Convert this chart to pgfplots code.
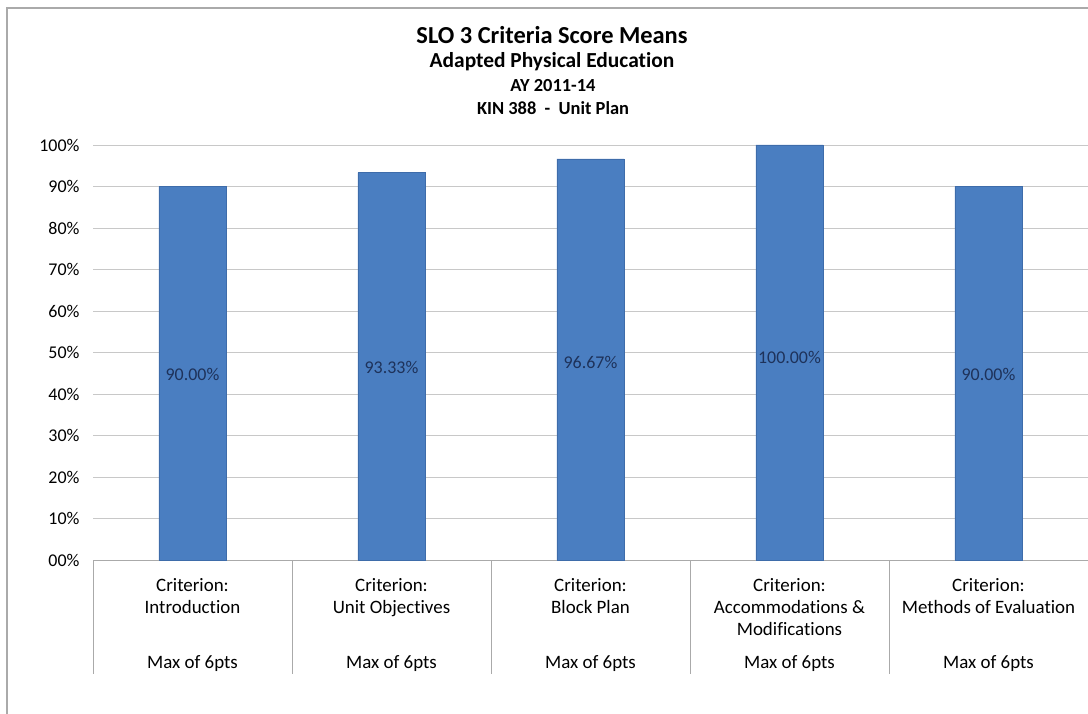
\documentclass[border=0pt]{standalone}
\usepackage{fontspec}
\setmainfont{Carlito}[Ligatures=NoCommon]
\usepackage{pgfplots}
\usepackage{pgfplotstable}
\pgfplotsset{compat=1.18}

\definecolor{barblue}{RGB}{74,126,193}
\definecolor{baredge}{RGB}{62,108,170}
\definecolor{lblblue}{RGB}{30,50,90}
\definecolor{gridgray}{RGB}{200,200,200}
\definecolor{axgray}{RGB}{170,170,170}

\pgfplotstableread{
x v ly
0 90.00 44.6
1 93.33 46.3
2 96.67 47.7
3 100.00 48.9
4 90.00 44.6
}\scoredata

\begin{document}
\begin{tikzpicture}
\useasboundingbox (0,0) rectangle (1088bp,714bp);
\fill[white] (0,0) rectangle (1088bp,714bp);
\draw[axgray, line width=1.5bp] (7bp,-20bp) rectangle (1110bp,706bp);

\node[font=\fontsize{24.5}{27}\selectfont\bfseries] at (552bp,679bp) {SLO 3 Criteria Score Means};
\node[font=\fontsize{21.5}{23}\selectfont\bfseries] at (552bp,652bp) {Adapted Physical Education};
\node[font=\fontsize{18.5}{20}\selectfont\bfseries] at (553bp,628bp) {AY 2011-14};
\node[font=\fontsize{18.5}{20}\selectfont\bfseries] at (553bp,606bp) {KIN 388\ \ -\ \ Unit Plan};

\begin{axis}[
  at={(93bp,154bp)}, anchor=south west,
  scale only axis, width=995bp, height=415bp,
  xmin=-0.5, xmax=4.5, ymin=0, ymax=100,
  axis x line*=bottom, axis y line*=left,
  x axis line style={axgray, line width=1bp},
  y axis line style={draw=none},
  ymajorgrids, grid style={gridgray, line width=0.8bp},
  ytick={0,10,...,100},
  yticklabels={00\%,10\%,20\%,30\%,40\%,50\%,60\%,70\%,80\%,90\%,100\%},
  ytick style={draw=none},
  yticklabel style={font=\fontsize{18}{20}\selectfont, xshift=-10bp},
  xtick={0,1,2,3,4},
  xticklabels={
    {Criterion:\\Introduction\\\strut\\[11bp]Max of 6pts},
    {Criterion:\\Unit Objectives\\\strut\\[11bp]Max of 6pts},
    {Criterion:\\Block Plan\\\strut\\[11bp]Max of 6pts},
    {Criterion:\\Accommodations \&\\Modifications\\[11bp]Max of 6pts},
    {Criterion:\\Methods of Evaluation\\\strut\\[11bp]Max of 6pts}},
  xtick style={draw=none},
  xticklabel style={font=\fontsize{19}{22}\selectfont, align=center, anchor=north, yshift=-15bp},
  extra x ticks={-0.5,0.5,1.5,2.5,3.5,4.5},
  extra x tick labels={},
  extra x tick style={xtick style={draw=axgray, line width=1bp}, major tick length=114bp, tick align=outside, grid=none},
  /pgf/number format/assume math mode=true,
  clip=false,
]
\addplot[ybar, bar width=0.337, fill=barblue, draw=baredge] table[x=x, y=v] {\scoredata};
\addplot[draw=none, mark=none, nodes near coords, point meta=explicit,
  nodes near coords={\pgfmathprintnumber[fixed, fixed zerofill, precision=2]{\pgfplotspointmeta}\%},
  every node near coord/.append style={anchor=center, text=lblblue, font=\fontsize{18}{20}\selectfont}]
  table[x=x, y=ly, meta=v] {\scoredata};
\end{axis}
\end{tikzpicture}
\end{document}
